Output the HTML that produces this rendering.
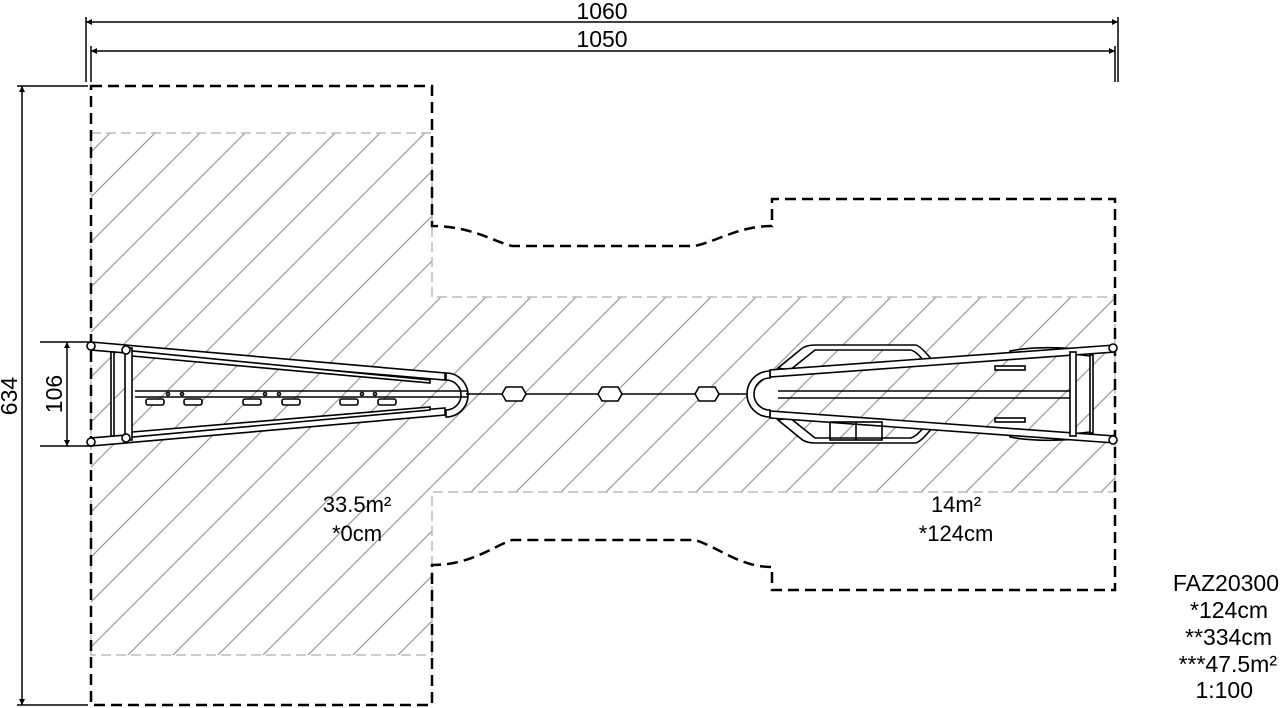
<!DOCTYPE html>
<html><head><meta charset="utf-8"><style>
html,body{margin:0;padding:0;background:#fff;width:1280px;height:708px;overflow:hidden}
svg{display:block}
text{font-family:"Liberation Sans",Arial,sans-serif;fill:#000}
</style></head><body>
<svg width="1280" height="708" viewBox="0 0 1280 708" xmlns="http://www.w3.org/2000/svg">
<defs>
<clipPath id="hc">
<path d="M91 133 H432 V297 H1115 V492 H432 V655 H91 Z"/>
</clipPath>
<marker id="ar" viewBox="0 0 10 10" refX="10" refY="5" markerWidth="14" markerHeight="6" orient="auto-start-reverse" markerUnits="userSpaceOnUse"><path d="M0 0 L10 5 L0 10 Z" fill="#000"/></marker>
</defs>
<g clip-path="url(#hc)" stroke="#999" stroke-width="1.2">
<path d="M-600 708 L100 8 M-555 708 L145 8 M-510 708 L190 8 M-465 708 L235 8 M-420 708 L280 8 M-375 708 L325 8 M-330 708 L370 8 M-285 708 L415 8 M-240 708 L460 8 M-195 708 L505 8 M-150 708 L550 8 M-105 708 L595 8 M-60 708 L640 8 M-15 708 L685 8 M30 708 L730 8 M75 708 L775 8 M120 708 L820 8 M165 708 L865 8 M210 708 L910 8 M255 708 L955 8 M300 708 L1000 8 M345 708 L1045 8 M390 708 L1090 8 M435 708 L1135 8 M480 708 L1180 8 M525 708 L1225 8 M570 708 L1270 8 M615 708 L1315 8 M660 708 L1360 8 M705 708 L1405 8 M750 708 L1450 8 M795 708 L1495 8 M840 708 L1540 8 M885 708 L1585 8"/>
</g>
<path d="M91 133 H432 V297 H1115 V492 H432 V655 H91 Z" fill="none" stroke="#bbb" stroke-width="1.5" stroke-dasharray="10 5"/>
<g fill="none" stroke="#000" stroke-width="2.5" stroke-dasharray="11 6">
<path d="M91 86 H432 V226 C470 226 490 240 512 246 H695 C720 240 740 226 772 226 V199 H1115 V590 H772 V567 C740 567 720 548 695 540 H512 C490 548 470 565 432 565 V705 H91 Z"/>
</g>
<g stroke="#000" stroke-width="1.5" fill="none">
<line x1="86" y1="17" x2="86" y2="82"/>
<line x1="1118" y1="17" x2="1118" y2="82"/>
<line x1="86" y1="22" x2="1118" y2="22" marker-start="url(#ar)" marker-end="url(#ar)"/>
<line x1="91" y1="46" x2="91" y2="82"/>
<line x1="1115" y1="46" x2="1115" y2="82"/>
<line x1="91" y1="51" x2="1115" y2="51" marker-start="url(#ar)" marker-end="url(#ar)"/>
<line x1="17" y1="86" x2="88" y2="86"/>
<line x1="17" y1="705" x2="88" y2="705"/>
<line x1="22" y1="86" x2="22" y2="705" marker-start="url(#ar)" marker-end="url(#ar)"/>
<line x1="40" y1="342" x2="90" y2="342"/>
<line x1="40" y1="446" x2="90" y2="446"/>
<line x1="67" y1="342" x2="67" y2="446" marker-start="url(#ar)" marker-end="url(#ar)"/>
</g>
<text x="602" y="19" font-size="23" text-anchor="middle">1060</text>
<text x="602" y="47" font-size="23" text-anchor="middle">1050</text>
<text transform="translate(17 396) rotate(-90)" font-size="23" text-anchor="middle">634</text>
<text transform="translate(62 394) rotate(-90)" font-size="23" text-anchor="middle">106</text>
<g fill="#fff" stroke="#000" stroke-width="1.6">
<path d="M91 342 L445 373 L445 380 L91 350 Z"/>
<path d="M91 446 L445 415 L445 408 L91 438 Z"/>
<path d="M122 350 L430 380 L430 383 L132 356 Z"/>
<path d="M122 438 L430 410 L430 407 L132 432 Z"/>
<rect x="125" y="348" width="7" height="92"/>
<rect x="111" y="352" width="3" height="84"/>
<circle cx="91" cy="346" r="4"/><circle cx="91" cy="442" r="4"/>
<circle cx="126" cy="350" r="4"/><circle cx="126" cy="438" r="4"/>
<path d="M446 373 A22 22 0 0 1 446 417 L446 410 A15 15 0 0 0 446 380 Z"/>
<line x1="135" y1="391" x2="468" y2="391"/><line x1="135" y1="397" x2="468" y2="397"/>
<rect x="146" y="399" width="18" height="6" rx="2"/><rect x="184" y="399" width="18" height="6" rx="2"/>
<rect x="243" y="399" width="18" height="6" rx="2"/><rect x="282" y="399" width="18" height="6" rx="2"/>
<rect x="340" y="399" width="18" height="6" rx="2"/><rect x="378" y="399" width="18" height="6" rx="2"/>
<circle cx="168" cy="394" r="1.5"/><circle cx="182" cy="394" r="1.5"/><circle cx="265" cy="394" r="1.5"/><circle cx="279" cy="394" r="1.5"/><circle cx="362" cy="394" r="1.5"/><circle cx="375" cy="394" r="1.5"/>
</g>
<g stroke="#000" stroke-width="1.6" fill="#fff">
<line x1="466" y1="394" x2="748" y2="394"/>
<path d="M506 387 H522 L526 394 L522 401 H506 L502 394 Z"/>
<path d="M602 387 H618 L622 394 L618 401 H602 L598 394 Z"/>
<path d="M699 387 H715 L719 394 L715 401 H699 L695 394 Z"/>
</g>
<g fill="#fff" stroke="#000" stroke-width="1.6">
<path d="M778 368 L800 350 Q805 345 815 345 H915 Q920 345 932 360 L925 362 Q915 350 910 350 H815 L790 370 Z"/>
<path d="M778 420 L800 438 Q805 443 815 443 H915 Q920 443 932 428 L925 426 Q915 438 910 438 H815 L790 418 Z"/>
<path d="M1010 351 Q1040 345 1090 350 L1090 356 Q1040 350 1010 356 Z"/>
<path d="M1010 437 Q1040 443 1090 438 L1090 432 Q1040 438 1010 432 Z"/>
<path d="M1115 345 L770 370 L770 377 L1115 352 Z"/>
<path d="M1115 443 L770 418 L770 411 L1115 436 Z"/>
<rect x="1070" y="352" width="6" height="84"/>
<rect x="1090" y="355" width="3" height="78"/>
<circle cx="1113" cy="348" r="4"/><circle cx="1113" cy="440" r="4"/>
<path d="M770 371 A23 23 0 0 0 770 417 L770 410 A16 16 0 0 1 770 378 Z"/>
<line x1="778" y1="391" x2="1070" y2="391"/><line x1="778" y1="398" x2="1070" y2="398"/>
<rect x="830" y="422" width="52" height="18" fill="none"/>
<line x1="856" y1="422" x2="856" y2="440"/>
<rect x="995" y="366" width="30" height="4"/><rect x="995" y="418" width="30" height="4"/>
</g>
<text x="357" y="512" font-size="22" text-anchor="middle">33.5m²</text>
<text x="357" y="541" font-size="22" text-anchor="middle">*0cm</text>
<text x="956" y="512" font-size="22" text-anchor="middle">14m²</text>
<text x="956" y="541" font-size="22" text-anchor="middle">*124cm</text>
<g font-size="23" text-anchor="end">
<text x="1279" y="591">FAZ20300</text>
<text x="1268" y="618">*124cm</text>
<text x="1272" y="645">**334cm</text>
<text x="1277" y="672">***47.5m²</text>
<text x="1253" y="698">1:100</text>
</g>
</svg>
</body></html>
